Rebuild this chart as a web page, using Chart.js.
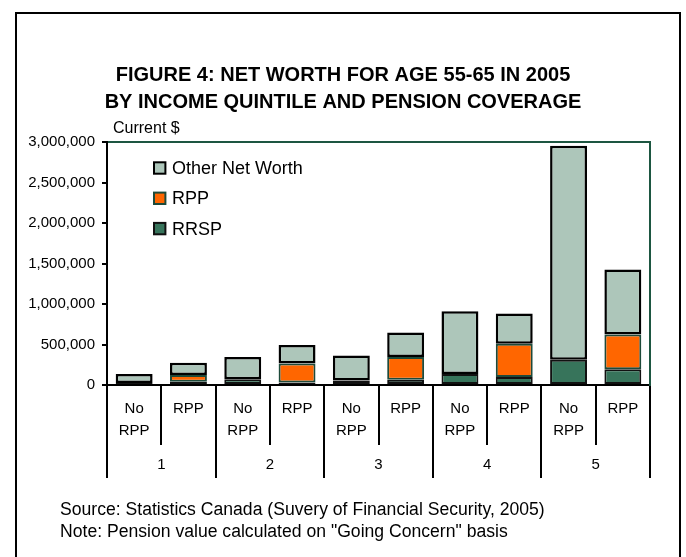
<!DOCTYPE html>
<html>
<head>
    <title>Figure 4: Net Worth for Age 55-65 in 2005</title>
    <script src="https://cdn.jsdelivr.net/npm/chart.js"></script>
    <style>
        body { margin: 0; background: #fff; }
        canvas { display: block; }
    </style>
</head>
<body>
    <canvas id="netWorthChart" width="686" height="557"></canvas>

    <script>
        // Data (current $)
        const coverageLabels = [['No', 'RPP'], 'RPP', ['No', 'RPP'], 'RPP', ['No', 'RPP'], 'RPP', ['No', 'RPP'], 'RPP', ['No', 'RPP'], 'RPP'];
        const quintileLabels = ['1', '2', '3', '4', '5'];
        const rrspValues = [25000, 40000, 70000, 30000, 55000, 65000, 136000, 100000, 313000, 195000];
        const rppValues = [0, 85000, 0, 235000, 0, 282000, 0, 410000, 0, 428000];
        const otherValues = [110000, 150000, 275000, 230000, 310000, 300000, 776000, 373000, 2642000, 804000];
        const yMax = 3000000;
        const yStep = 500000;

        const FONT = '"Liberation Sans", Arial, sans-serif';
        Chart.defaults.font.family = FONT;
        Chart.defaults.color = '#000';

        const GREEN_LINE = '#1d5641';

        // Frame, "Current $", legend inside plot and the source notes
        const decorPlugin = {
            id: 'decor',
            beforeDraw(chart) {
                const ctx = chart.ctx;
                ctx.save();
                ctx.fillStyle = '#fff';
                ctx.fillRect(0, 0, chart.width, chart.height);
                ctx.lineWidth = 2;
                ctx.strokeStyle = '#000';
                ctx.strokeRect(16, 13, 664, 600);
                ctx.restore();
            },
            afterDraw(chart) {
                const ctx = chart.ctx;
                const area = chart.chartArea;
                ctx.save();
                ctx.fillStyle = '#000';
                ctx.textBaseline = 'middle';
                ctx.font = '16px ' + FONT;
                ctx.fillText('Current $', area.left + 6, area.top - 13);

                // legend, top item first
                const items = chart.data.datasets.slice().reverse();
                ctx.font = '18px ' + FONT;
                items.forEach((ds, i) => {
                    const x = area.left + 47;
                    const y = area.top + 26 + i * 30.3;
                    ctx.fillStyle = ds.backgroundColor;
                    ctx.fillRect(x, y - 5.7, 11.4, 11.4);
                    ctx.lineWidth = 2;
                    ctx.strokeStyle = ds.legendBorder;
                    ctx.strokeRect(x, y - 5.7, 11.4, 11.4);
                    ctx.fillStyle = '#000';
                    ctx.fillText(ds.label, x + 18, y + 1);
                });

                ctx.font = '17.6px ' + FONT;
                ctx.fillText('Source: Statistics Canada (Suvery of Financial Security, 2005)', 60, 510);
                ctx.fillText('Note: Pension value calculated on "Going Concern" basis', 60, 532);
                ctx.restore();
            }
        };

        new Chart(document.getElementById('netWorthChart'), {
            type: 'bar',
            data: {
                labels: coverageLabels,
                datasets: [
                    {
                        label: 'RRSP',
                        data: rrspValues,
                        backgroundColor: '#37745b',
                        borderColor: '#111',
                        legendBorder: '#111',
                        borderWidth: 2,
                        borderSkipped: false,
                        xAxisID: 'x',
                        yAxisID: 'y'
                    },
                    {
                        label: 'RPP',
                        data: rppValues,
                        backgroundColor: '#ff6600',
                        borderColor: '#1d4a3a',
                        legendBorder: '#1d4a3a',
                        borderWidth: 2,
                        borderSkipped: false,
                        xAxisID: 'x',
                        yAxisID: 'y'
                    },
                    {
                        label: 'Other Net Worth',
                        data: otherValues,
                        backgroundColor: '#adc6ba',
                        borderColor: '#000',
                        legendBorder: '#000',
                        borderWidth: 2.5,
                        borderSkipped: false,
                        xAxisID: 'x',
                        yAxisID: 'y'
                    }
                ]
            },
            options: {
                responsive: false,
                animation: false,
                devicePixelRatio: 1,
                layout: { padding: { left: 18, right: 18, top: 0, bottom: 79 } },
                datasets: {
                    bar: { categoryPercentage: 1, barPercentage: 0.68 }
                },
                plugins: {
                    legend: { display: false },
                    tooltip: { enabled: false },
                    title: {
                        display: true,
                        text: ['FIGURE 4: NET WORTH FOR AGE 55-65 IN 2005', 'BY INCOME QUINTILE AND PENSION COVERAGE'],
                        font: { size: 20, weight: 'bold', lineHeight: 1.35 },
                        color: '#000',
                        padding: { top: 62, bottom: 26 }
                    }
                },
                scales: {
                    x: {
                        stacked: true,
                        position: 'bottom',
                        offset: true,
                        grid: { offset: true, drawOnChartArea: false, tickLength: 60, color: '#000', lineWidth: 2 },
                        border: { display: true, color: '#000', width: 2 },
                        ticks: { autoSkip: false, maxRotation: 0, padding: -47, font: { size: 15, lineHeight: 1.44 } },
                        afterFit: (scale) => { scale.height = 60; }
                    },
                    x2: {
                        type: 'category',
                        labels: quintileLabels,
                        position: 'bottom',
                        offset: true,
                        grid: { offset: true, drawOnChartArea: false, tickLength: 33, color: '#000', lineWidth: 2 },
                        border: { display: false },
                        ticks: { autoSkip: false, maxRotation: 0, padding: -24, font: { size: 15, lineHeight: 1.44 } },
                        afterFit: (scale) => { scale.height = 33; }
                    },
                    xTop: {
                        type: 'category',
                        labels: quintileLabels,
                        position: 'top',
                        grid: { display: false },
                        border: { display: true, color: GREEN_LINE, width: 2 },
                        ticks: { display: false },
                        afterFit: (scale) => { scale.height = 0; }
                    },
                    y: {
                        stacked: true,
                        min: 0,
                        max: yMax,
                        grid: { drawOnChartArea: false, tickLength: 5, color: '#000', lineWidth: 2 },
                        border: { display: true, color: '#000', width: 2 },
                        ticks: {
                            stepSize: yStep,
                            padding: 7,
                            font: { size: 15 },
                            callback: (v) => v.toLocaleString('en-US')
                        },
                        afterFit: (scale) => { scale.width = 89; }
                    },
                    yRight: {
                        position: 'right',
                        grid: { display: false },
                        border: { display: true, color: GREEN_LINE, width: 2 },
                        ticks: { display: false },
                        afterFit: (scale) => { scale.width = 18; }
                    }
                }
            },
            plugins: [decorPlugin]
        });
    </script>
</body>
</html>
